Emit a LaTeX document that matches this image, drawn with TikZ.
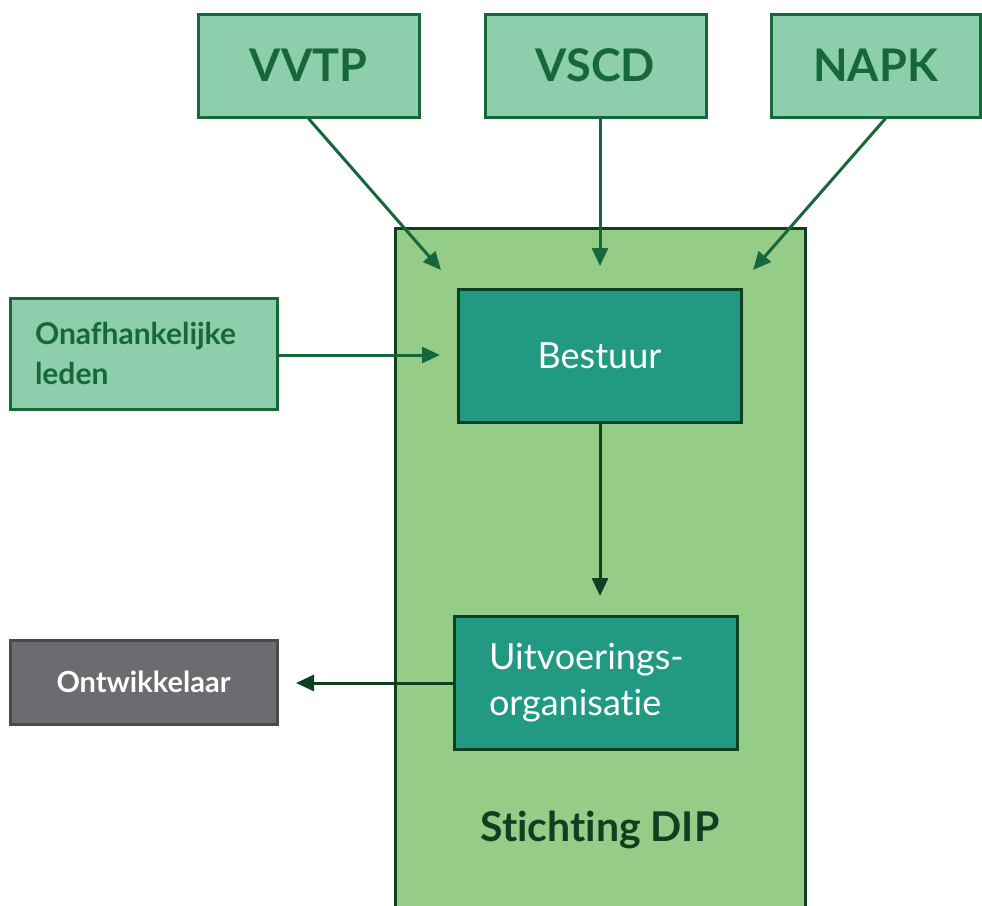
\documentclass[tikz,border=0pt]{standalone}
\usepackage{fontspec}
\setmainfont{Lato}[Ligatures=NoCommon]
\usetikzlibrary{arrows.meta}

\definecolor{memberfill}{RGB}{141,207,173}
\definecolor{memberline}{RGB}{22,104,58}
\definecolor{dipfill}{RGB}{149,204,135}
\definecolor{dipline}{RGB}{13,63,32}
\definecolor{organfill}{RGB}{34,154,131}
\definecolor{devfill}{RGB}{107,107,112}
\definecolor{devline}{RGB}{74,74,78}

\begin{document}
\begin{tikzpicture}[x=1pt, y=-1pt,
    member/.style={draw=memberline, fill=memberfill, line width=3pt, text=memberline,
      inner sep=0pt, minimum height=103pt, minimum width=221pt,
      font=\fontsize{45}{50}\selectfont\bfseries},
    organ/.style={draw=dipline, fill=organfill, line width=3pt, text=white,
      inner sep=0pt, minimum width=283pt, minimum height=133pt},
    feed/.style={memberline, line width=3pt, -{Triangle[length=18pt,width=16pt]}},
    inner/.style={dipline, line width=3pt, -{Triangle[length=18pt,width=16pt]}}]
    \clip (0, 0) rectangle (982, 905);
    \fill [white] (0, 0) rectangle (982, 905);

    \draw [dipline, fill=dipfill, line width=3pt] (395, 228) rectangle (805, 930);
    \node [text=dipline, font=\fontsize{41}{48}\selectfont\bfseries] (dip) at (600, 830) {Stichting DIP};

    \node [member] (vvtp) at (308.5, 65.5) {VVTP};
    \node [member] (vscd) at (595.5, 65.5) {VSCD};
    \node [member, minimum width=209pt] (napk) at (875.5, 65.5) {NAPK};

    \node [member, minimum width=267pt, minimum height=111pt, text width=217pt, align=left,
      font=\fontsize{30}{40}\selectfont\bfseries] (leden) at (143.5, 353.5) {Onafhankelijke\\leden};
    \node [draw=devline, fill=devfill, line width=3pt, text=white, inner sep=0pt,
      minimum width=267pt, minimum height=84pt,
      font=\fontsize{29}{34}\selectfont\bfseries] (dev) at (143.5, 682) {Ontwikkelaar};

    \node [organ, font=\fontsize{36}{44}\selectfont] (bestuur) at (599.5, 355.5) {Bestuur};
    \node [organ, text width=213pt, align=left, font=\fontsize{36}{46}\selectfont] (uitv) at (595.5, 682.5) {Uitvoerings-\\organisatie};

    \coordinate (vvtpin) at (441, 270);
    \coordinate (vscdin) at (600, 266);
    \coordinate (napkin) at (753, 270);
    \coordinate (ledenin) at (440, 355);
    \coordinate (uitvin) at (600, 596);
    \coordinate (devin) at (296, 683);

    \draw [feed] (vvtp.south) -- (vvtpin);
    \draw [feed] ([xshift=4.5pt]vscd.south) -- (vscdin);
    \draw [feed] ([xshift=10pt]napk.south) -- (napkin);
    \draw [feed] (leden.east |- ledenin) -- (ledenin);
    \draw [inner] ([xshift=0.5pt]bestuur.south) -- (uitvin);
    \draw [inner] (uitv.west |- devin) -- (devin);
  \end{tikzpicture}
\end{document}
